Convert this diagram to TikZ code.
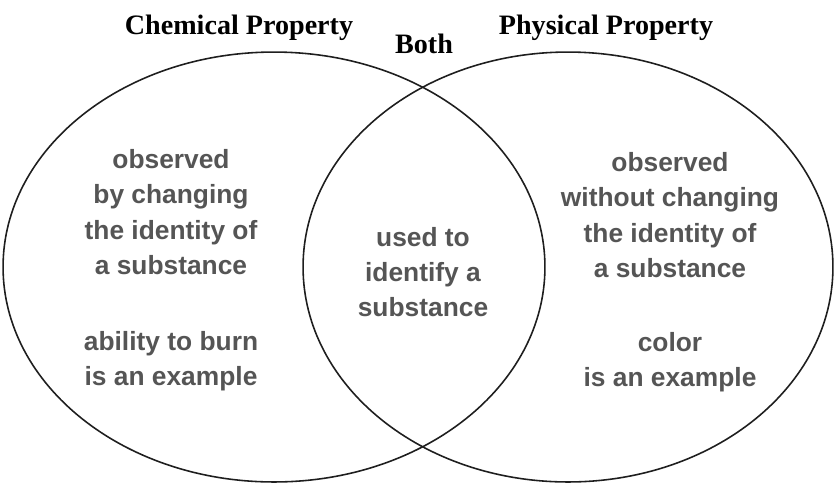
\documentclass[tikz,border=0pt]{standalone}
\usepackage{fontspec}
\setmainfont{Liberation Serif}
\newfontfamily\labelfont{Liberation Sans}
\usetikzlibrary{positioning}

\definecolor{textgray}{HTML}{555555}
\definecolor{linegray}{HTML}{1E1E1E}

\begin{document}
\begin{tikzpicture}[x=0.02cm, y=-0.02cm,
    title/.style={font=\fontsize{16}{19}\selectfont\bfseries, text=black, inner sep=1pt},
    fact/.style={font=\labelfont\fontsize{15}{20}\selectfont\bfseries, text=textgray, align=center, inner sep=1pt}]
    \useasboundingbox (0,0) rectangle (835,485);

    % Define centres of the two sets
    \coordinate (cChem) at (274,267);
    \coordinate (cPhys) at (568,267);

    % Draw the two overlapping ellipses
    \draw[linegray, line width=0.9pt] (cChem) ellipse (5.42cm and 4.3cm);
    \draw[linegray, line width=0.9pt] (cPhys) ellipse (5.3cm and 4.3cm);

    % Headings above the sets
    \node[title] (chemTitle) at (239,28) {Chemical Property};
    \node[title] (bothTitle) at (424,44) {Both};
    \node[title] (physTitle) at (606,28) {Physical Property};

    % Chemical property only
    \node[fact] (chemDef) at (171,212) {observed\\by changing\\the identity of\\a substance};
    \node[fact] (chemEx) at (171,361) {ability to burn\\is an example};

    % Shared part
    \node[fact] (both) at (423,272) {used to\\identify a\\substance};

    % Physical property only
    \node[fact] (physDef) at (670,215) {observed\\without changing\\the identity of\\a substance};
    \node[fact] (physEx) at (670,362) {color\\is an example};

\end{tikzpicture}
\end{document}
